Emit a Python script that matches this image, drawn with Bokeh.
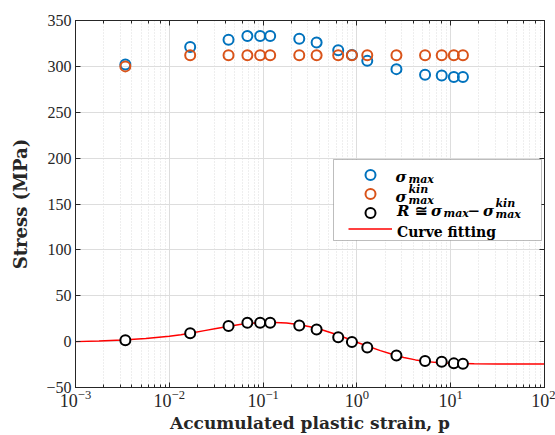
from bokeh.plotting import figure
from bokeh.models import (LogAxis, LinearAxis, FixedTicker, Legend, LegendItem,
                          Label, BoxAnnotation, CustomJSTickFormatter)
from bokeh.embed import file_html
from bokeh.resources import INLINE

# ---------------- data ----------------
strain = [0.0034, 0.0167, 0.0428, 0.068, 0.093, 0.119, 0.243, 0.372,
          0.632, 0.885, 1.29, 2.64, 5.33, 8.02, 10.8, 13.5]
sigma_max = [302, 321, 329, 333, 333, 333, 330, 326,
             317.5, 312.5, 306, 297, 291, 290, 288.5, 288.5]
sigma_kin = [300, 312, 312, 312, 312, 312, 312, 312,
             312, 312, 312, 312, 312, 312, 312, 312]
r_iso = [1.5, 9, 17, 20.5, 20.5, 20.5, 17.6, 13.3,
         4.7, -0.3, -6.5, -15, -21.2, -21.9, -23.7, -24]

fit_x = [0.001, 0.00178, 0.00316, 0.00562, 0.01, 0.0133, 0.0178, 0.0237,
         0.0316, 0.0422, 0.0562, 0.075, 0.1, 0.133, 0.178, 0.237, 0.316,
         0.422, 0.562, 0.75, 1.0, 1.33, 1.78, 2.37, 3.16, 4.22, 5.62, 7.5,
         10, 17.8, 31.6, 100]
fit_y = [0.0, 0.8, 1.8, 3.4, 5.8, 7.6, 9.7, 12.0, 14.3, 16.6, 18.6, 20.0,
         20.8, 20.9, 20.2, 18.7, 16.3, 12.9, 8.8, 4.2, -0.6, -5.3, -9.8,
         -13.8, -17.2, -19.9, -21.8, -23.0, -23.7, -24.2, -24.4, -24.4]

y_ticks = [-50, 0, 50, 100, 150, 200, 250, 300, 350]

# ---------------- figure ----------------
AX = "#262626"
GRID = "#dddddd"
TICKFONT = "Liberation Serif"
BOLDFONT = "DejaVu Serif"

p = figure(width=555, height=435, x_axis_type="log",
           x_range=(1e-3, 1e2), y_range=(-50, 350),
           output_backend="svg", toolbar_location=None,
           min_border_left=75, min_border_right=11,
           min_border_top=20, min_border_bottom=44)
p.background_fill_color = "white"
p.border_fill_color = "white"
p.outline_line_color = AX

p.yaxis.ticker = FixedTicker(ticks=y_ticks)

blank = CustomJSTickFormatter(code="return ''")
top_axis = LogAxis(formatter=blank)
right_axis = LinearAxis(ticker=FixedTicker(ticks=y_ticks), formatter=blank)
p.add_layout(top_axis, "above")
p.add_layout(right_axis, "right")

for ax in [p.below[0], p.left[0], top_axis, right_axis]:
    ax.axis_line_color = AX
    ax.major_tick_line_color = AX
    ax.minor_tick_line_color = AX
    ax.major_tick_in = 5
    ax.major_tick_out = 0
    ax.minor_tick_in = 3
    ax.minor_tick_out = 0
    ax.major_label_text_font = TICKFONT
    ax.major_label_text_font_size = "16px"
    ax.major_label_text_color = AX

for ax in [p.left[0], right_axis]:
    ax.minor_tick_line_color = None

for ax in [top_axis, right_axis]:
    ax.major_label_text_font_size = "1px"
    ax.major_label_standoff = 0

bx = p.below[0]
bx.major_label_standoff = 2
bx.major_label_text_font_size = "18px"
bx.axis_label = "Accumulated plastic strain, p"
bx.axis_label_text_font = BOLDFONT
bx.axis_label_text_font_style = "bold"
bx.axis_label_text_font_size = "17px"
bx.axis_label_text_color = AX
bx.axis_label_standoff = 3

ly = p.left[0]
ly.major_label_standoff = 4
ly.axis_label = "Stress (MPa)"
ly.axis_label_text_font = BOLDFONT
ly.axis_label_text_font_style = "bold"
ly.axis_label_text_font_size = "18px"
ly.axis_label_text_color = AX
ly.axis_label_standoff = 12

p.xgrid.grid_line_color = GRID
p.ygrid.grid_line_color = GRID
p.xgrid.minor_grid_line_color = GRID
p.xgrid.minor_grid_line_dash = "1 2"

# ---------------- data glyphs ----------------
r_blue = p.scatter(strain, sigma_max, size=10, marker="circle",
                   fill_color=None, line_color="#0072BD", line_width=2)
r_orange = p.scatter(strain, sigma_kin, size=10, marker="circle",
                     fill_color=None, line_color="#D95319", line_width=2)
r_fit = p.line(fit_x, fit_y, line_color="#FF0000", line_width=1.5)
r_black = p.scatter(strain, r_iso, size=10, marker="circle",
                    fill_color="white", line_color="black", line_width=2)

# ---------------- legend ----------------
FL, FB = 75, 391  # frame left / bottom in canvas px (for screen-unit offsets)

box = BoxAnnotation(left=333 - FL, right=541 - FL, top=FB - 163, bottom=FB - 244,
                    left_units="screen", right_units="screen",
                    top_units="screen", bottom_units="screen",
                    fill_color="white", fill_alpha=1.0,
                    line_color=AX, line_width=1)
p.add_layout(box)

# one single-item legend per row so the rows can be spaced as in the reference
row_centres = [178.5, 197.5, 216.5, 232.5]
for rend, cy in zip([r_blue, r_orange, r_black, r_fit], row_centres):
    lg = Legend(items=[LegendItem(label=" ", renderers=[rend])],
                location=(348 - FL, FB - (cy + 12.5)),
                padding=0, margin=0, spacing=0,
                glyph_width=44, glyph_height=25, label_height=25,
                label_width=4, label_standoff=0, label_text_font_size="8px",
                border_line_alpha=0, background_fill_alpha=0)
    p.add_layout(lg)

MATH = dict(text_font=BOLDFONT, text_font_style="bold italic",
            text_color="black", x_units="screen", y_units="screen",
            text_baseline="alphabetic", text_align="left")
UP = dict(text_font=BOLDFONT, text_font_style="bold",
          text_color="black", x_units="screen", y_units="screen",
          text_baseline="alphabetic", text_align="left")

def lab(txt, cx, cy, size, style):
    p.add_layout(Label(x=cx - FL, y=FB - cy, text=txt,
                       text_font_size=f"{size}px", **style))

# row 1: sigma_max
lab("σ", 395, 180.5, 15, MATH)
lab("max", 408, 183, 11, MATH)
# row 2: sigma_max^kin
lab("σ", 395, 200, 15, MATH)
lab("kin", 408, 192.5, 11, MATH)
lab("max", 408, 203.5, 11, MATH)
# row 3: R ≅ sigma_max - sigma_max^kin
lab("R", 396.5, 214, 15, MATH)
lab("≅", 414, 214, 15, UP)
lab("σ", 430.5, 214, 15, MATH)
lab("max", 443, 217, 11, MATH)
lab("−", 467, 214, 15, UP)
lab("σ", 482.5, 214, 15, MATH)
lab("kin", 495, 206.5, 11, MATH)
lab("max", 495, 217.5, 11, MATH)
# row 4
lab("Curve fitting", 396.5, 235, 14, UP)

open("out.html", "w").write(file_html(p, INLINE))
